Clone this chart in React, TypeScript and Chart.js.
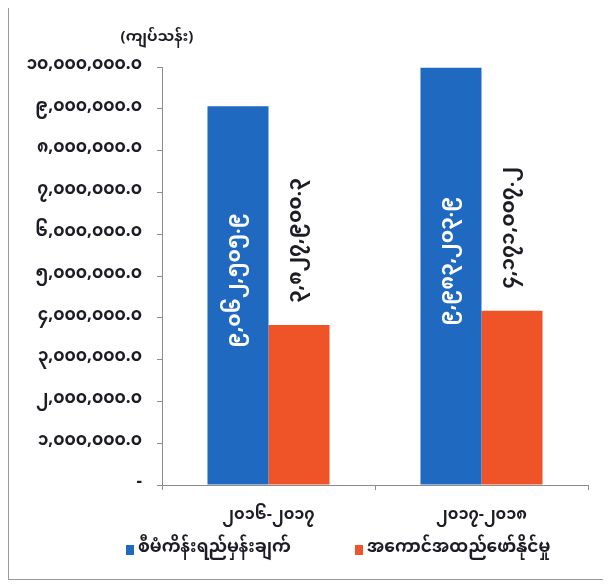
import React, { useEffect, useRef } from "react";
import { Chart, registerables } from "chart.js";

Chart.register(...registerables);

// ---- data ----
const categories: string[] = ["၂၀၁၆-၂၀၁၇", "၂၀၁၇-၂၀၁၈"];
const seriesNames: string[] = ["စီမံကိန်းရည်မှန်းချက်", "အကောင်အထည်ဖော်နိုင်မှု"];
const targetValues: number[] = [9062505.9, 9983203.9];
const actualValues: number[] = [3827900.3, 4171007.2];
const yAxisTitle = "(ကျပ်သန်း)";
const yMin = 0;
const yMax = 10000000;
const yStep = 1000000;

const BLUE = "#1F6AC0";
const RED = "#EE5428";
const INK = "#1c1c24";
const FONT = "'Noto Sans Myanmar', 'Padauk', 'Myanmar Text', 'Noto Sans', 'DejaVu Sans', sans-serif";

const MY_DIGITS = ["၀", "၁", "၂", "၃", "၄", "၅", "၆", "၇", "၈", "၉"];
function toMyanmar(s: string): string {
  return s.replace(/[0-9]/g, (d) => MY_DIGITS[Number(d)]);
}
function fmt(v: number): string {
  const s = v.toLocaleString("en-US", { minimumFractionDigits: 1, maximumFractionDigits: 1 });
  return toMyanmar(s);
}

const extras = {
  id: "extras",
  afterDatasetsDraw(chart: any) {
    const ctx = chart.ctx;
    const ca = chart.chartArea;
    // rotated data labels
    chart.data.datasets.forEach((ds: any, di: number) => {
      const meta = chart.getDatasetMeta(di);
      meta.data.forEach((bar: any, i: number) => {
        const text = fmt(ds.data[i]);
        ctx.save();
        ctx.font = `bold 20px ${FONT}`;
        ctx.textBaseline = "middle";
        if (di === 0) {
          const cy = (bar.y + bar.base) / 2 - 15;
          ctx.translate(bar.x, cy);
          ctx.rotate(-Math.PI / 2);
          ctx.textAlign = "center";
          ctx.fillStyle = "#ffffff";
        } else {
          ctx.translate(bar.x, bar.y - 22);
          ctx.rotate(-Math.PI / 2);
          ctx.textAlign = "left";
          ctx.fillStyle = INK;
        }
        ctx.fillText(text, 0, 0);
        ctx.restore();
      });
    });
    // y axis unit title
    ctx.save();
    ctx.font = `bold 15px ${FONT}`;
    ctx.fillStyle = INK;
    ctx.textAlign = "center";
    ctx.textBaseline = "middle";
    ctx.fillText(yAxisTitle, ca.left - 5, ca.top - 28);
    ctx.restore();
    // legend
    const ly = chart.height - 29;
    const starts = [ca.left - 36, ca.left + 193];
    chart.data.datasets.forEach((ds: any, di: number) => {
      const x0 = starts[di];
      ctx.save();
      ctx.fillStyle = ds.backgroundColor;
      ctx.fillRect(x0, ly - 5, 8, 10);
      ctx.font = `bold 17px ${FONT}`;
      ctx.fillStyle = INK;
      ctx.textAlign = "left";
      ctx.textBaseline = "middle";
      ctx.fillText(ds.label, x0 + 12, ly);
      ctx.restore();
    });
  },
};

export default function App() {
  const ref = useRef<HTMLCanvasElement | null>(null);
  useEffect(() => {
    if (!ref.current) return;
    const chart = new Chart(ref.current, {
      type: "bar",
      data: {
        labels: categories,
        datasets: [
          { label: seriesNames[0], data: targetValues, backgroundColor: BLUE, categoryPercentage: 0.573, barPercentage: 1.0 },
          { label: seriesNames[1], data: actualValues, backgroundColor: RED, categoryPercentage: 0.573, barPercentage: 1.0 },
        ],
      },
      options: {
        animation: false,
        responsive: false,
        layout: { padding: { top: 64, right: 17, left: 0, bottom: 44 } },
        plugins: {
          legend: { display: false },
          tooltip: { enabled: false },
        },
        scales: {
          x: {
            grid: { drawOnChartArea: false, drawTicks: true, tickLength: 5, color: "#8c8c8c" },
            border: { color: "#8c8c8c" },
            ticks: { color: INK, padding: 18, font: { family: FONT, size: 16, weight: "bold" } },
            afterFit: (s: any) => { s.height = 50; },
          },
          y: {
            min: yMin,
            max: yMax,
            grid: { drawOnChartArea: false, drawTicks: true, tickLength: 5, color: "#8c8c8c" },
            border: { color: "#8c8c8c" },
            ticks: {
              stepSize: yStep,
              padding: 15,
              color: INK,
              font: { family: FONT, size: 17, weight: "bold" },
              callback: (v: any) => (Number(v) === 0 ? "-" : fmt(Number(v))),
            },
            afterFit: (s: any) => { s.width = 153; },
          },
        },
      },
      plugins: [extras],
    });
    return () => chart.destroy();
  }, []);
  return (
    <div style={{ marginTop: -6, width: 596, height: 576, border: "1px solid #9a9a9a", background: "#fff" }}>
      <canvas ref={ref} width={596} height={576} style={{ display: "block" }} />
    </div>
  );
}
